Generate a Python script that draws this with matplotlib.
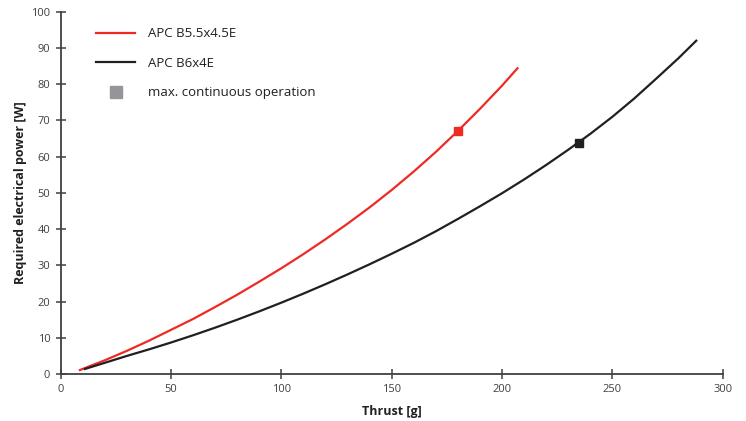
import matplotlib
matplotlib.use('Agg')
import matplotlib.pyplot as plt
from matplotlib.lines import Line2D

plt.rcParams['font.family'] = ['Open Sans', 'DejaVu Sans']

# thrust [g] vs required electrical power [W]
thrust_b55 = [8.7, 20, 30, 40, 50, 60, 70, 80, 90, 100, 110, 120, 130, 140,
              150, 160, 170, 180, 190, 200, 207]
power_b55 = [1.1, 3.8, 6.4, 9.2, 12.2, 15.2, 18.5, 21.9, 25.5, 29.2, 33.1, 37.2,
             41.5, 46.0, 50.8, 55.9, 61.3, 67.1, 73.2, 79.6, 84.4]

thrust_b6 = [11, 20, 30, 40, 50, 60, 70, 80, 90, 100, 110, 120, 130, 140, 150,
             160, 170, 180, 190, 200, 210, 220, 230, 240, 250, 260, 270, 280, 288]
power_b6 = [1.4, 3.1, 5.0, 6.8, 8.7, 10.7, 12.8, 15.0, 17.3, 19.7, 22.2, 24.8,
            27.5, 30.3, 33.2, 36.2, 39.4, 42.8, 46.3, 49.9, 53.7, 57.7, 61.9,
            66.3, 71.0, 76.1, 81.6, 87.2, 92.0]

# max. continuous operation points
max_thrust = [180, 235]
max_power = [67.1, 63.7]

labels = ['APC B5.5x4.5E', 'APC B6x4E', 'max. continuous operation']
red = '#ee2a24'
black = '#231f20'
gray = '#939598'

fig = plt.figure(figsize=(7.46, 4.21), dpi=100)
ax = fig.add_axes([0.0814, 0.1116, 0.8874, 0.8606])

ax.plot(thrust_b55, power_b55, color=red, lw=1.6)
ax.plot(thrust_b6, power_b6, color=black, lw=1.6)
ax.plot(max_thrust[0], max_power[0], 's', color=red, ms=6)
ax.plot(max_thrust[1], max_power[1], 's', color=black, ms=6)

ax.set_xlim(0, 300)
ax.set_ylim(0, 100)
ax.set_xticks(range(0, 301, 50))
ax.set_yticks(range(0, 101, 10))

for s in ['top', 'right']:
    ax.spines[s].set_visible(False)
for s in ['left', 'bottom']:
    ax.spines[s].set_color('#404040')
    ax.spines[s].set_linewidth(1.3)
ax.tick_params(direction='inout', length=7, width=1.1, color='#404040',
               labelsize=8, labelcolor='#404040', pad=4)

ax.set_xlabel('Thrust [g]', fontsize=9, fontweight='bold', color='#202020', labelpad=7)
ax.set_ylabel('Required electrical power [W]', fontsize=9, fontweight='bold',
              color='#202020', labelpad=3)

handles = [Line2D([], [], color=red, lw=1.6),
           Line2D([], [], color=black, lw=1.6),
           Line2D([], [], ls='none', marker='s', color=gray, ms=8)]
ax.legend(handles, labels, loc='upper left', bbox_to_anchor=(0.036, 0.99),
          frameon=False, fontsize=9.5, handlelength=2.9, handletextpad=1.0,
          labelspacing=1.25, labelcolor='#202020')

fig.savefig('out.png', dpi=100)
